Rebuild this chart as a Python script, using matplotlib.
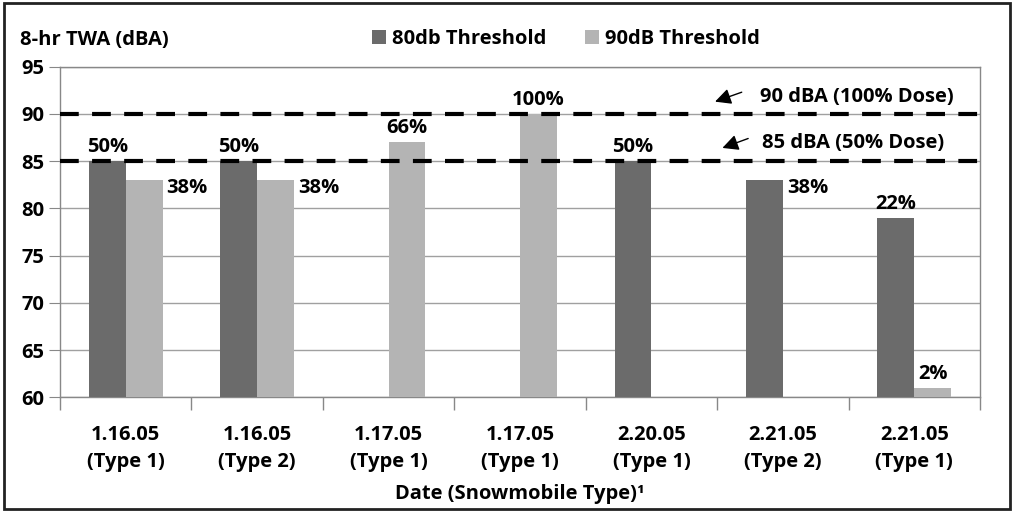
import numpy as np
import matplotlib
matplotlib.use("Agg")
import matplotlib.pyplot as plt
from matplotlib.patches import Rectangle

plt.rcParams['font.family'] = ['Open Sans', 'DejaVu Sans']
plt.rcParams['font.weight'] = 'bold'

categories = ["1.16.05\n(Type 1)", "1.16.05\n(Type 2)", "1.17.05\n(Type 1)", "1.17.05\n(Type 1)",
              "2.20.05\n(Type 1)", "2.21.05\n(Type 2)", "2.21.05\n(Type 1)"]
series_names = ["80db Threshold", "90dB Threshold"]
th80 = [85, 85, np.nan, np.nan, 85, 83, 79]
th90 = [83, 83, 87, 90, np.nan, np.nan, 61]
labels80 = ["50%", "50%", "", "", "50%", "38%", "22%"]
labels90 = ["38%", "38%", "66%", "100%", "", "", "2%"]
place80 = ["top", "top", "", "", "top", "right", "top"]
place90 = ["right", "right", "top", "top", "", "", "top"]
ref_levels = [90, 85]
ref_texts = ["90 dBA (100% Dose)", "85 dBA (50% Dose)"]
yticks = [60, 65, 70, 75, 80, 85, 90, 95]

c_dark = "#6b6b6b"
c_light = "#b4b4b4"
FS = 14.5

fig = plt.figure(figsize=(10.14, 5.12), dpi=100)
ax = fig.add_axes([60/1014, 1-397.3/512, 920/1014, (397.3-66.7)/512])

x = np.arange(len(categories))
w = 0.28
b1 = ax.bar(x - w/2, th80, w, color=c_dark, label=series_names[0], zorder=3)
b2 = ax.bar(x + w/2, th90, w, color=c_light, label=series_names[1], zorder=3)

ax.set_xlim(-0.5, len(categories)-0.5)
ax.set_ylim(60, 95)
ax.set_yticks(yticks)
ax.set_xticks(x)
ax.set_xticklabels(categories, fontsize=FS, linespacing=1.45)
ax.set_xticks(np.arange(len(categories)+1)-0.5, minor=True)
ax.tick_params(axis='x', which='major', length=0, pad=20)
ax.tick_params(axis='x', which='minor', length=9, color='#888888', width=1)
ax.tick_params(axis='y', length=8, color='#888888', labelsize=FS, pad=3)
ax.grid(axis='y', color='#a0a0a0', lw=1, zorder=0)
for s in ax.spines.values():
    s.set_color('#888888')
    s.set_linewidth(1)

for lvl in ref_levels:
    ax.axhline(lvl, color='black', lw=3, dashes=(4.5, 3.2), zorder=4)

def put(bars, vals, labs, places):
    for bar, v, lab, pl in zip(bars, vals, labs, places):
        if not lab or np.isnan(v):
            continue
        cx = bar.get_x() + bar.get_width()/2
        if pl == "top":
            ax.text(cx, v + 0.4, lab, ha='center', va='bottom', fontsize=FS, zorder=5)
        else:
            ax.text(bar.get_x() + bar.get_width() + 0.03, v - 0.8, lab, ha='left', va='center',
                    fontsize=FS, zorder=5)

put(b1, th80, labels80, place80)
put(b2, th90, labels90, place90)

# reference line annotations
ann = [((0.712, 91.3), (0.741, 92.3), (0.761, 91.8)),
       ((0.720, 86.4), (0.748, 87.4), (0.763, 86.9))]
for (head, tail, tpos), txt in zip(ann, ref_texts):
    tr = ax.get_yaxis_transform()
    ax.annotate('', xy=head, xytext=tail, xycoords=tr, textcoords=tr,
                arrowprops=dict(arrowstyle='-|>,head_length=0.6,head_width=0.3', color='black', lw=1,
                                mutation_scale=16, shrinkA=0, shrinkB=0), zorder=6)
    ax.text(tpos[0], tpos[1], txt, transform=tr, ha='left', va='center', fontsize=FS, zorder=6)

fig.text(20/1014, 1-40/512, "8-hr TWA (dBA)", ha='left', va='center', fontsize=FS)
fig.text(520/1014, 1-494/512, "Date (Snowmobile Type)\u00b9", ha='center', va='center', fontsize=FS)

fig.legend(handles=[b1, b2], labels=series_names, loc='center', bbox_to_anchor=(566/1014, 1-39/512),
           ncol=2, frameon=False, fontsize=FS, handlelength=0.7, handleheight=0.7,
           handletextpad=0.3, columnspacing=1.9)

fig.patches.append(Rectangle((4/1014, 3/512), 1006/1014, 506/512, transform=fig.transFigure,
                             fill=False, edgecolor='#222222', lw=2))

fig.savefig("out.png", dpi=100)
